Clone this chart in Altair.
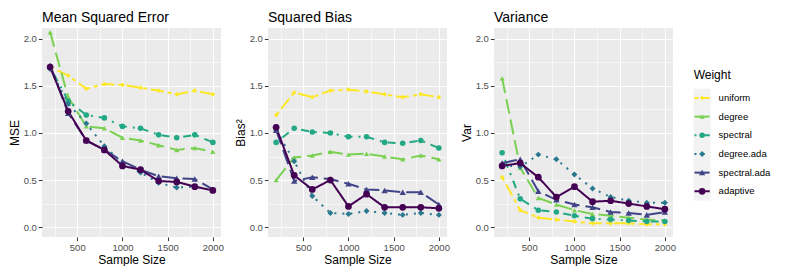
import altair as alt
import pandas as pd

FONT = "Liberation Sans"

sizes = [200, 400, 600, 800, 1000, 1200, 1400, 1600, 1800, 2000]
weights = ["uniform", "degree", "spectral", "degree.ada", "spectral.ada", "adaptive"]
colors = ["#FDE725", "#7AD151", "#22A884", "#2A788E", "#414487", "#440154"]
shapes = ["diamond", "triangle-up", "circle", "diamond", "triangle-up", "circle"]
msizes = [22, 45, 30, 22, 45, 30]
dashes = [[4, 4, 13, 4], [15, 6], [2, 6, 8, 6], [2, 6], [15, 6], [1, 0]]

mse = {
    "uniform":      [1.70, 1.61, 1.47, 1.52, 1.51, 1.48, 1.45, 1.41, 1.45, 1.41],
    "degree":       [2.07, 1.38, 1.07, 1.05, 0.95, 0.92, 0.87, 0.82, 0.84, 0.80],
    "spectral":     [1.70, 1.34, 1.19, 1.16, 1.07, 1.05, 0.98, 0.95, 0.98, 0.90],
    "degree.ada":   [1.68, 1.31, 1.10, 0.86, 0.68, 0.58, 0.47, 0.42, 0.43, 0.39],
    "spectral.ada": [1.72, 1.21, 0.92, 0.82, 0.70, 0.61, 0.54, 0.52, 0.51, 0.40],
    "adaptive":     [1.70, 1.23, 0.92, 0.82, 0.65, 0.61, 0.49, 0.48, 0.43, 0.39],
}
bias = {
    "uniform":      [1.19, 1.43, 1.38, 1.45, 1.46, 1.44, 1.41, 1.38, 1.41, 1.38],
    "degree":       [0.50, 0.74, 0.76, 0.80, 0.77, 0.78, 0.75, 0.72, 0.76, 0.72],
    "spectral":     [0.90, 1.05, 1.01, 1.00, 0.96, 0.96, 0.90, 0.89, 0.92, 0.84],
    "degree.ada":   [1.03, 0.70, 0.33, 0.15, 0.14, 0.17, 0.15, 0.13, 0.15, 0.13],
    "spectral.ada": [1.03, 0.49, 0.53, 0.51, 0.46, 0.40, 0.39, 0.37, 0.37, 0.24],
    "adaptive":     [1.06, 0.55, 0.40, 0.50, 0.22, 0.35, 0.21, 0.21, 0.21, 0.20],
}
var = {
    "uniform":      [0.53, 0.18, 0.10, 0.08, 0.06, 0.04, 0.04, 0.04, 0.03, 0.03],
    "degree":       [1.58, 0.63, 0.31, 0.24, 0.18, 0.14, 0.12, 0.10, 0.08, 0.07],
    "spectral":     [0.79, 0.30, 0.18, 0.16, 0.12, 0.09, 0.08, 0.07, 0.06, 0.06],
    "degree.ada":   [0.66, 0.64, 0.77, 0.72, 0.56, 0.41, 0.32, 0.28, 0.26, 0.26],
    "spectral.ada": [0.68, 0.72, 0.38, 0.29, 0.24, 0.21, 0.16, 0.15, 0.13, 0.16],
    "adaptive":     [0.65, 0.68, 0.53, 0.32, 0.43, 0.27, 0.28, 0.25, 0.22, 0.19],
}

x_ticks = [250, 500, 750, 1000, 1250, 1500, 1750, 2000]
y_ticks = [0, 0.25, 0.5, 0.75, 1.0, 1.25, 1.5, 1.75, 2.0]

W, H = 179, 209

color_scale = alt.Scale(domain=weights, range=colors)
shape_scale = alt.Scale(domain=weights, range=shapes)
size_scale = alt.Scale(domain=weights, range=msizes)
dash_scale = alt.Scale(domain=weights, range=dashes)
xscale = alt.Scale(domain=[110, 2090], nice=False, zero=False)
yscale = alt.Scale(domain=[-0.105, 2.115], nice=False, zero=False)


def long_df(d):
    rows = []
    for i, w in enumerate(weights):
        for n, v in zip(sizes, d[w]):
            rows.append({"n": n, "value": v, "Weight": w, "order": i})
    return pd.DataFrame(rows)


def panel(d, title, ytitle):
    df = long_df(d)
    base = alt.Chart(df)
    xax = alt.Axis(
        values=x_ticks, title="Sample Size", grid=True, format="d",
        labelExpr="datum.value % 500 === 0 ? datum.label : ''",
        gridWidth={"condition": {"test": "datum.value % 500 === 0", "value": 1.1}, "value": 0.55},
        tickOpacity={"condition": {"test": "datum.value % 500 === 0", "value": 1}, "value": 0},
    )
    yax = alt.Axis(
        values=y_ticks, title=ytitle, grid=True, format=".1f",
        labelExpr="datum.value * 100 % 50 === 0 ? datum.label : ''",
        gridWidth={"condition": {"test": "datum.value * 100 % 50 === 0", "value": 1.1}, "value": 0.55},
        tickOpacity={"condition": {"test": "datum.value * 100 % 50 === 0", "value": 1}, "value": 0},
    )
    x = alt.X("n:Q", scale=xscale, axis=xax)
    y = alt.Y("value:Q", scale=yscale, axis=yax)
    lines = base.mark_line(strokeWidth=2).encode(
        x=x, y=y,
        color=alt.Color("Weight:N", scale=color_scale, legend=None),
        strokeDash=alt.StrokeDash("Weight:N", scale=dash_scale, legend=None),
        order=alt.Order("n:Q"),
    )
    points = base.mark_point(filled=True, opacity=1).encode(
        x=x, y=y,
        color=alt.Color("Weight:N", scale=color_scale, legend=None),
        shape=alt.Shape("Weight:N", scale=shape_scale, legend=None),
        size=alt.Size("Weight:N", scale=size_scale, legend=None),
        order=alt.Order("order:Q"),
    )
    return alt.layer(lines, points).properties(
        width=W, height=H,
        view=alt.ViewBackground(fill="#EBEBEB", stroke=None),
        title=alt.TitleParams(title, anchor="start", frame="group", fontSize=14,
                              fontWeight="normal", font=FONT, offset=3),
    )


# legend drawn as a small chart
leg = pd.DataFrame({"Weight": weights, "r": list(range(len(weights)))})
leg["r0"] = leg["r"] - 0.5
leg["r1"] = leg["r"] + 0.5
leg["x0"] = 0.0
leg["x1"] = 1.0
leg["xm"] = 0.5
lx = alt.Scale(domain=[-0.45, 1], nice=False, zero=False)
ly = alt.Scale(domain=[-3.75, 7.45], nice=False, zero=False, reverse=True)
lbase = alt.Chart(leg)
lbg = lbase.mark_rect(color="#F2F2F2").encode(
    x=alt.X("x0:Q", scale=lx, axis=None), x2="x1:Q",
    y=alt.Y("r0:Q", scale=ly, axis=None), y2="r1:Q",
)
lline_df = pd.concat([leg.assign(xx=0.05), leg.assign(xx=0.95)])
lline = alt.Chart(lline_df).mark_line(strokeWidth=2).encode(
    x=alt.X("xx:Q", scale=lx, axis=None),
    y=alt.Y("r:Q", scale=ly, axis=None),
    color=alt.Color("Weight:N", scale=color_scale, legend=None),
    strokeDash=alt.StrokeDash("Weight:N", scale=dash_scale, legend=None),
    detail="Weight:N",
)
lpt = lbase.mark_point(filled=True, opacity=1).encode(
    x=alt.X("xm:Q", scale=lx, axis=None),
    y=alt.Y("r:Q", scale=ly, axis=None),
    color=alt.Color("Weight:N", scale=color_scale, legend=None),
    shape=alt.Shape("Weight:N", scale=shape_scale, legend=None),
    size=alt.Size("Weight:N", scale=size_scale, legend=None),
)
ltxt = lbase.mark_text(align="left", baseline="middle", dx=8, fontSize=9.5, font=FONT, color="black").encode(
    x=alt.X("x1:Q", scale=lx, axis=None),
    y=alt.Y("r:Q", scale=ly, axis=None),
    text="Weight:N",
)
ltitle = alt.Chart(pd.DataFrame({"t": ["Weight"], "x": [0.0], "r": [-1.25]})).mark_text(
    align="left", baseline="middle", fontSize=12, font=FONT, color="black"
).encode(
    x=alt.X("x:Q", scale=lx, axis=None),
    y=alt.Y("r:Q", scale=ly, axis=None),
    text="t:N",
)
legend = alt.layer(lbg, lline, lpt, ltxt, ltitle).properties(
    width=24.6, height=H,
    view=alt.ViewBackground(fill=None, stroke=None),
    title=alt.TitleParams(" ", fontSize=14, offset=3),
)

chart = alt.hconcat(
    panel(mse, "Mean Squared Error", "MSE"),
    panel(bias, "Squared Bias", "Bias²"),
    panel(var, "Variance", "Var"),
    legend,
    spacing=10,
).properties(
    padding={"left": 0, "top": 3, "right": 0, "bottom": 0}
).configure_view(
    stroke=None
).configure_title(
    fontWeight="normal", font=FONT
).configure_axis(
    domain=False, gridColor="white", labelColor="#4D4D4D", labelFont=FONT,
    labelFontSize=9.5, titleFont=FONT, titleFontSize=12, titleFontWeight="normal",
    titleColor="black", tickColor="#333333", tickSize=3.6, tickWidth=1,
    labelPadding=2, titlePadding=2,
).configure_legend(disable=True)

chart.save("out.html", embed_options={"renderer": "svg", "actions": False})
